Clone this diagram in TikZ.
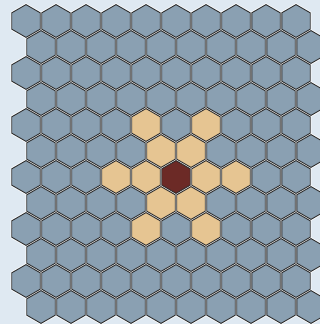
\documentclass[tikz,border=0pt]{standalone}
\definecolor{bgc}{HTML}{DFE9F2}
\definecolor{hexblue}{HTML}{8AA0B2}
\definecolor{hextan}{HTML}{E6C592}
\definecolor{hexred}{HTML}{6C2A26}
\definecolor{hexline}{HTML}{2E2E2E}
\newcommand\hexpath[2]{(#1,#2) +(90:16.4) -- +(150:16.4) -- +(210:16.4) -- +(270:16.4) -- +(330:16.4) -- +(30:16.4) -- cycle}
\begin{document}
\begin{tikzpicture}[x=1pt,y=-1pt,
  halo/.style={draw=white,line width=2.4pt},
  cell/.style={draw=hexline,line width=0.9pt,line join=miter,fill=#1}]
\useasboundingbox[fill=bgc] (0,0) rectangle (320,324);
\clip (0,0) rectangle (320,324);
% white halos (gaps)
\foreach \r in {0,...,11}{
  \foreach \k in {0,...,9}{
    \pgfmathsetmacro\cx{26+30*\k+15*mod(\r,2)}
    \pgfmathsetmacro\cy{21+26*\r}
    \draw[halo] \hexpath{\cx}{\cy};
  }
}
% cells
\foreach \r in {0,...,11}{
  \foreach \k in {0,...,9}{
    \pgfmathsetmacro\cx{26+30*\k+15*mod(\r,2)}
    \pgfmathsetmacro\cy{21+26*\r}
    \def\cc{hexblue}
    \foreach \a/\b in {4/4,4/6,5/4,5/5,6/3,6/4,6/6,6/7,7/4,7/5,8/4,8/6}{
      \ifnum\r=\a\relax\ifnum\k=\b\relax\xdef\cc{hextan}\fi\fi
    }
    \ifnum\r=6\relax\ifnum\k=5\relax\xdef\cc{hexred}\fi\fi
    \draw[cell=\cc] \hexpath{\cx}{\cy};
    \xdef\cc{hexblue}
  }
}
\end{tikzpicture}
\end{document}
